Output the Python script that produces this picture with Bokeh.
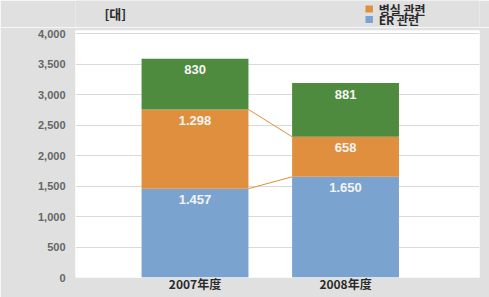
from bokeh.plotting import figure
from bokeh.layouts import column
from bokeh.models import Range1d, FixedTicker, NumeralTickFormatter, ColumnDataSource
from bokeh.core.properties import value
from bokeh.embed import file_html
from bokeh.resources import INLINE

categories = ["2007年度", "2008年度"]
er = [1457, 1650]
room = [1298, 658]
other = [830, 881]
er_labels = ["1.457", "1.650"]
room_labels = ["1.298", "658"]
other_labels = ["830", "881"]
legend_labels = ["병실 관련", "ER 관련"]
unit_label = "[대]"
y_ticks = [0, 500, 1000, 1500, 2000, 2500, 3000, 3500, 4000]

BLUE = "#7ba3cf"
ORANGE = "#df8f3d"
GREEN = "#4f8b3f"
BG = "#e0e0e0"
KR = "Noto Sans CJK KR"
W = 489
HH = 27  # header strip height

# ---------- header strip: unit label + legend (pixel coordinates, y downwards) ----------
hdr = figure(width=W, height=HH, output_backend="svg", toolbar_location=None,
             x_range=Range1d(0, W), y_range=Range1d(HH, 0),
             x_axis_type=None, y_axis_type=None, min_border=0)
hdr.border_fill_color = BG
hdr.background_fill_color = BG
hdr.outline_line_color = None
hdr.grid.visible = False

hdr.text(x=[35], y=[12.5], text=[unit_label], text_baseline="middle",
         text_font=value(KR), text_font_style="bold", text_font_size="13px",
         text_color="#2a2a2a")
leg_colors = [ORANGE, BLUE]
leg_y = [8.5, 19]
hdr.rect(x=[355.5] * 2, y=leg_y, width=9, height=7, fill_color=leg_colors, line_color=None)
hdr.text(x=[367] * 2, y=leg_y, text=legend_labels, text_baseline="middle",
         text_font=value(KR), text_font_style="bold", text_font_size="12px",
         text_color="#2a2a2a")

# ---------- main chart ----------
xs = [i + 0.5 for i in range(len(categories))]
bw = 0.71

p = figure(width=W, height=297 - HH, output_backend="svg", toolbar_location=None,
           x_range=Range1d(-0.294, 2.39), y_range=Range1d(0, 4050),
           min_border_left=75, min_border_right=10, min_border_top=30 - HH, min_border_bottom=20)
p.border_fill_color = BG
p.background_fill_color = "white"
p.outline_line_color = None

src = ColumnDataSource(dict(x=xs, er=er, room=room, other=other))
rs = p.vbar_stack(["er", "room", "other"], x="x", width=bw, source=src,
                  color=[BLUE, ORANGE, GREEN], line_color=None)

# connector lines between the bars
b1 = [er[0], er[1]]
b2 = [er[0] + room[0], er[1] + room[1]]
p.line([xs[0] + bw / 2, xs[1] - bw / 2], b1, line_color=ORANGE, line_width=1)
p.line([xs[0] + bw / 2, xs[1] - bw / 2], b2, line_color=ORANGE, line_width=1)

# value labels
tops_er = er
tops_room = [e + r for e, r in zip(er, room)]
tops_other = [e + r + o for e, r, o in zip(er, room, other)]
for tops, labs in [(tops_er, er_labels), (tops_room, room_labels), (tops_other, other_labels)]:
    p.text(x=xs, y=tops, text=labs, text_align="center", text_baseline="middle",
           y_offset=11, text_color="#f4f4f4", text_font_size="13px",
           text_font=value("Liberation Sans"), text_font_style="bold")

p.xaxis.ticker = FixedTicker(ticks=xs)
p.xaxis.major_label_overrides = {x: c for x, c in zip(xs, categories)}
p.xaxis.major_label_text_font = KR
p.xaxis.major_label_text_font_style = "bold"
p.xaxis.major_label_text_font_size = "12px"
p.xaxis.major_label_text_color = "#2a2a2a"
p.xaxis.major_label_standoff = -3
p.xaxis.major_tick_out = 0
p.xaxis.major_tick_in = 0
p.xaxis.major_tick_line_color = None
p.xaxis.minor_tick_line_color = None
p.xaxis.axis_line_color = None

p.yaxis.ticker = FixedTicker(ticks=y_ticks)
p.yaxis.formatter = NumeralTickFormatter(format="0,0")
p.yaxis.major_label_text_font = "Liberation Sans"
p.yaxis.major_label_text_font_style = "bold"
p.yaxis.major_label_text_font_size = "11px"
p.yaxis.major_label_text_color = "#666666"
p.yaxis.major_label_standoff = 10
p.yaxis.major_tick_out = 0
p.yaxis.major_tick_in = 0
p.yaxis.major_tick_line_color = None
p.yaxis.minor_tick_line_color = None
p.yaxis.axis_line_color = None

p.xgrid.grid_line_color = None
p.ygrid.grid_line_color = "#dadada"

layout = column(hdr, p, spacing=0)
open("out.html", "w").write(file_html(layout, INLINE))
